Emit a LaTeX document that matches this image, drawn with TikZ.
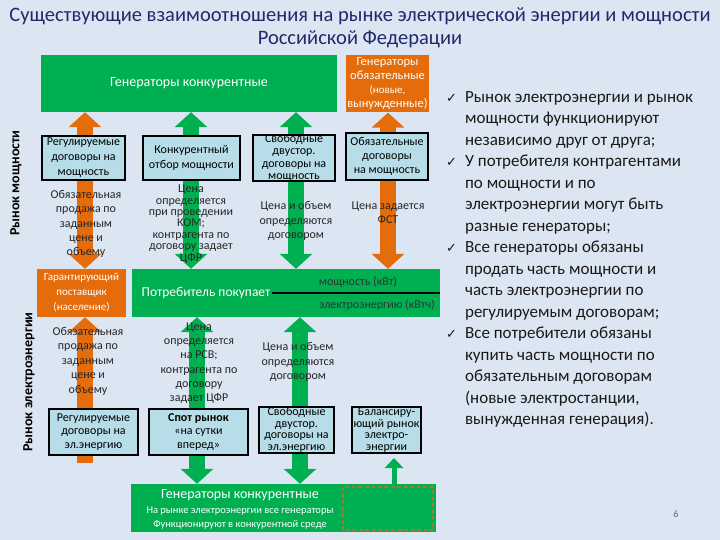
\documentclass[tikz,border=0pt]{standalone}
\usepackage{fontspec}
\setmainfont{Carlito}
\newfontfamily\dejavu{DejaVu Sans}
\usetikzlibrary{arrows.meta,calc}
\definecolor{bgc}{HTML}{DCE6F2}
\definecolor{gr}{HTML}{00B050}
\definecolor{orc}{HTML}{E46C0A}
\definecolor{lbl}{HTML}{B7DEE8}
\definecolor{navy}{HTML}{1F2A6B}
\definecolor{dsh}{HTML}{A07A30}
\tikzset{
  gbox/.style={fill=gr, text=white, inner sep=0pt, align=center},
  obox/.style={fill=orc, text=white, inner sep=0pt, align=center},
  lbox/.style={fill=lbl, draw=black, line width=2pt, inner sep=0pt, align=center, font=\fontsize{12}{15}\selectfont},
  dbl/.style={line width=16pt, arrows={Triangle[width=32pt,length=15pt]-Triangle[width=32pt,length=15pt]}},
  sgl/.style={line width=16pt, arrows={Triangle[width=32pt,length=15pt]-}},
  lab/.style={align=center, text=black!85, font=\fontsize{12}{14.3}\selectfont, inner sep=0pt},
}
\begin{document}
\begin{tikzpicture}[x=1pt,y=-1pt]
\path[fill=bgc] (0,0) rectangle (720,540);
% title
\node[text=navy, align=center, font=\fontsize{20.5}{23}\selectfont] (title) at (360,27.5)
  {Существующие взаимоотношения на рынке электрической энергии и мощности\\Российской Федерации};
% big boxes
\node[gbox, minimum width=296pt, minimum height=57pt, font=\fontsize{14}{16}\selectfont] (topG) at (189,83.5) {Генераторы конкурентные};
\node[obox, minimum width=83pt, minimum height=57pt, font=\fontsize{12.5}{14}\selectfont] (topO) at (387.5,84)
  {Генераторы\\обязательные\\\fontsize{11}{12.5}\selectfont (новые,\\вынужденные)};
\node[obox, minimum width=89pt, minimum height=48pt, font=\fontsize{11}{15}\selectfont] (garant) at (81.5,293)
  {Гарантирующий\\поставщик\\(население)};
\node[gbox, minimum width=308pt, minimum height=48pt] (potr) at (286,293) {};
\node[gbox, minimum width=305pt, minimum height=48pt] (botG) at (283.5,508) {};
\draw[dsh, line width=1.6pt, dash pattern=on 4pt off 2.5pt] (343,487) rectangle (433,530);
% column coordinates
\coordinate (x1) at (85,0);
\coordinate (x2) at (191,0);
\coordinate (x3) at (296,0);
\coordinate (x4) at (388,0);
\coordinate (x6) at (197,0);
\coordinate (x7) at (300,0);
\coordinate (e1) at (85,463);
% arrows upper
\draw[orc, dbl] (x1 |- garant.north) -- (x1 |- topG.south);
\draw[gr, dbl] (x2 |- potr.north) -- (x2 |- topG.south);
\draw[gr, dbl] (x3 |- potr.north) -- (x3 |- topG.south);
\draw[orc, dbl] (x4 |- potr.north) -- (x4 |- topO.south);
% arrows lower
\draw[orc, sgl] (garant.south -| e1) -- (e1);
\draw[gr, dbl] (x6 |- potr.south) -- (x6 |- botG.north);
\draw[gr, dbl] (x7 |- potr.south) -- (x7 |- botG.north);
% small boxes
\node[lbox, minimum width=83pt, minimum height=44pt] (b1) at (83.5,158) {Регулируемые\\договоры на\\мощность};
\node[lbox, minimum width=97pt, minimum height=44pt] (b2) at (191.5,158) {Конкурентный\\отбор мощности};
\node[lbox, minimum width=82pt, minimum height=46pt, font=\fontsize{12}{12.2}\selectfont] (b3) at (294,158) {Свободные\\двустор.\\договоры на\\мощность};
\node[lbox, minimum width=82pt, minimum height=47pt, font=\fontsize{12}{14}\selectfont] (b4) at (387,156.5) {Обязательные\\договоры\\на мощность};
\node[lbox, minimum width=89pt, minimum height=46pt, font=\fontsize{12}{13.2}\selectfont] (c1) at (93.5,432) {Регулируемые\\договоры на\\эл.энергию};
\node[lbox, minimum width=99pt, minimum height=46pt, font=\fontsize{12}{13.2}\selectfont] (c2) at (198.5,432) {\textbf{Спот рынок}\\«на сутки\\вперед»};
\node[lbox, minimum width=75pt, minimum height=46pt, font=\fontsize{12}{11.7}\selectfont] (c3) at (296.5,430) {Свободные\\двустор.\\договоры на\\эл.энергию};
\node[lbox, minimum width=69pt, minimum height=46pt, font=\fontsize{12}{11.7}\selectfont] (c4) at (386.5,430) {Балансиру-\\ющий рынок\\электро-\\энергии};
\coordinate (x5) at (394,0);
\draw[gr, line width=5pt, arrows={Triangle[width=18pt,length=10pt]-}] ([yshift=-4pt]x5 |- c4.south) -- (x5 |- botG.north);
% arrow labels upper
\node[lab] (t1) at (86,224) {Обязательная\\продажа по\\заданным\\цене и\\объему};
\node[lab, font=\fontsize{12}{11.4}\selectfont] (t2) at (191,224) {Цена\\определяется\\при проведении\\КОМ;\\контрагента по\\договору задает\\ЦФР};
\node[lab, font=\fontsize{12}{14.5}\selectfont] (t3) at (296,221) {Цена и объем\\определяются\\договором};
\node[lab] (t4) at (388,213) {Цена задается\\ФСТ};
% arrow labels lower
\node[lab, font=\fontsize{12}{14.5}\selectfont] (t5) at (88,361) {Обязательная\\продажа по\\заданным\\цене и\\объему};
\node[lab] (t6) at (199,363) {Цена\\определяется\\на РСВ;\\контрагента по\\договору\\задает ЦФР};
\node[lab] (t7) at (298,362) {Цена и объем\\определяются\\договором};
% consumer box contents
\node[text=white, font=\fontsize{13.5}{15}\selectfont, inner sep=1pt] (ptxt) at (206,293) {Потребитель покупает};
\draw[black, line width=1.2pt] (ptxt.east) -- (ptxt.east -| potr.east);
\node[text=black!80, font=\fontsize{12}{14}\selectfont] (pm) at (358,282) {мощность (кВт)};
\node[text=black!80, font=\fontsize{12}{14}\selectfont] (pe) at (377,305) {электроэнергию (кВтч)};
% bottom box contents
\node[text=white, font=\fontsize{14}{16}\selectfont] (bt1) at (240,495) {Генераторы конкурентные};
\node[text=white, align=center, font=\fontsize{10.5}{14}\selectfont] (bt2) at (240,518)
  {На рынке электроэнергии все генераторы\\Функционируют в конкурентной среде};
% side labels
\node[rotate=90, font=\bfseries\fontsize{14}{16}\selectfont] (sl1) at (16,183) {Рынок мощности};
\node[rotate=90, font=\bfseries\fontsize{14}{16}\selectfont] (sl2) at (29,382) {Рынок электроэнергии};
% bullets
\node[anchor=north west, inner sep=0pt, text=black!90, font=\fontsize{17}{21.5}\selectfont] (bul) at (446,87)
 {\begin{tabular}{@{}l@{\hspace{8pt}}l@{}}
 {\dejavu\fontsize{13}{21.5}\selectfont ✓} & Рынок электроэнергии и рынок\\
  & мощности функционируют\\
  & независимо друг от друга;\\
 {\dejavu\fontsize{13}{21.5}\selectfont ✓} & У потребителя контрагентами\\
  & по мощности и по\\
  & электроэнергии могут быть\\
  & разные генераторы;\\
 {\dejavu\fontsize{13}{21.5}\selectfont ✓} & Все генераторы обязаны\\
  & продать часть мощности и\\
  & часть электроэнергии по\\
  & регулируемым договорам;\\
 {\dejavu\fontsize{13}{21.5}\selectfont ✓} & Все потребители обязаны\\
  & купить часть мощности по\\
  & обязательным договорам\\
  & (новые электростанции,\\
  & вынужденная генерация).
 \end{tabular}};
\node[text=black!60, font=\fontsize{10}{12}\selectfont] (pg) at (676,514) {6};
\end{tikzpicture}
\end{document}
